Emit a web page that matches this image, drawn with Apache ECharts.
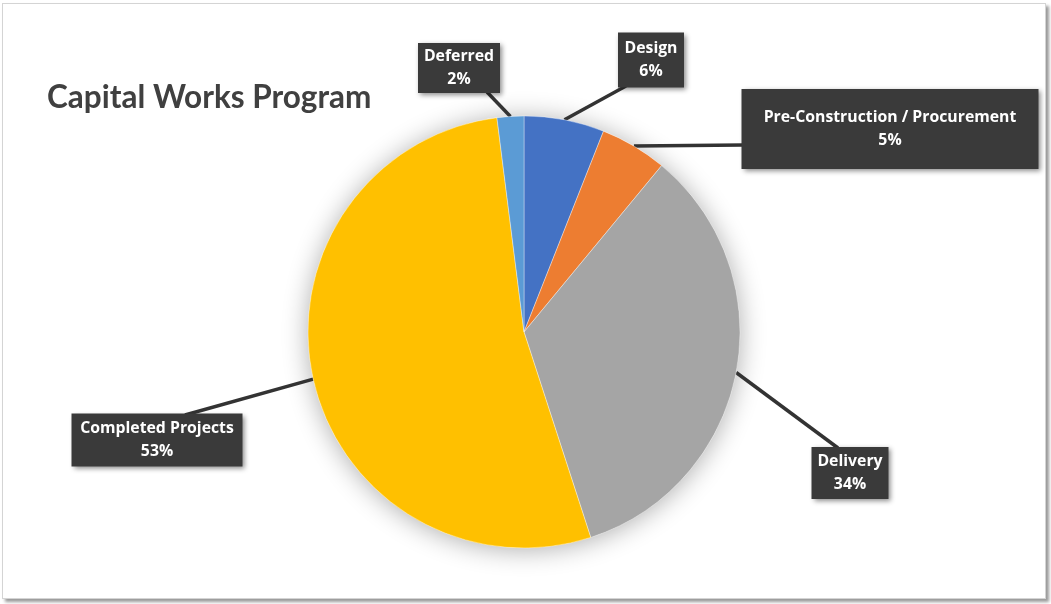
<!DOCTYPE html>
<html>
<head>
<meta charset="utf-8">
<script src="https://cdn.jsdelivr.net/npm/echarts@6/dist/echarts.min.js"></script>
<style>
  html, body { margin: 0; padding: 0; background: #fff; }
  #frame { position: absolute; left: 2px; top: 3px; width: 1042px; height: 594px;
           border: 1px solid #d4d4d4; box-shadow: 3px 3px 3px #9a9a9a; background: #fff; }
  #chart { position: absolute; left: 0; top: 0; width: 1051px; height: 604px; }
</style>
</head>
<body>
<div id="frame"></div>
<div id="chart"></div>
<script>
// ---- data ----
const titleText = 'Capital Works Program';
const categories = ['Design', 'Pre-Construction / Procurement', 'Delivery', 'Completed Projects', 'Deferred'];
const values = [6, 5, 34, 53, 2];
const colors = ['#4472C4', '#ED7D31', '#A5A5A5', '#FFC000', '#5B9BD5'];

// ---- label box layout (centers, sizes and callout attach offsets, px) ----
const labelCenters = [[651, 60], [890, 129], [850, 473], [157, 440], [459, 68]];
const labelSizes = [[66, 55], [297, 80], [77, 52], [171, 53], [82, 50]];
const calloutAttach = [[-25, 26], [-147, 16], [-12, -25], [28, -25], [28, 24]];
const padTop = 5;

const chart = echarts.init(document.getElementById('chart'), null, { renderer: 'canvas' });

const data = categories.map((name, i) => ({
  name: name,
  value: values[i],
  itemStyle: { color: colors[i] },
  label: { width: labelSizes[i][0], height: labelSizes[i][1] - padTop }
}));

chart.setOption({
  animation: false,
  backgroundColor: 'transparent',
  title: {
    text: titleText,
    left: 42,
    top: 77,
    textStyle: { fontFamily: 'Lato', fontWeight: 'bold', fontSize: 31.5, color: '#404040' }
  },
  series: [
    {
      type: 'pie',
      silent: true,
      center: [524, 332],
      radius: 216,
      z: 1,
      label: { show: false },
      labelLine: { show: false },
      itemStyle: { color: '#ffffff', shadowBlur: 26, shadowColor: 'rgba(0,0,0,0.32)', shadowOffsetY: 2 },
      data: [{ value: 1 }]
    },
    {
      type: 'pie',
      center: [524, 332],
      radius: 216,
      startAngle: 90,
      clockwise: true,
      z: 2,
      itemStyle: { borderColor: 'rgba(255,255,255,0.6)', borderWidth: 0.6 },
      label: {
        show: true,
        position: 'outside',
        formatter: p => p.name + '\n' + p.percent.toFixed(0) + '%',
        fontFamily: 'Open Sans',
        fontWeight: 'bold',
        fontSize: 15.8,
        lineHeight: 23,
        color: '#ffffff',
        backgroundColor: '#3a3a3a',
        align: 'center',
        verticalAlign: 'middle',
        padding: [padTop, 0, 0, 0],
        shadowBlur: 5,
        shadowOffsetX: 2,
        shadowOffsetY: 2,
        shadowColor: 'rgba(0,0,0,0.45)'
      },
      labelLine: {
        show: true,
        length: 10,
        length2: 0,
        smooth: false,
        lineStyle: { color: '#333333', width: 3.5 }
      },
      labelLayout: function (params) {
        const i = params.dataIndex;
        const c = labelCenters[i];
        const a = calloutAttach[i];
        const start = params.labelLinePoints && params.labelLinePoints[0];
        const res = { x: c[0], y: c[1], align: 'center', verticalAlign: 'middle' };
        if (start) {
          res.labelLinePoints = [start, [c[0] + a[0], c[1] + a[1]]];
        }
        return res;
      },
      data: data
    }
  ]
});
</script>
</body>
</html>
